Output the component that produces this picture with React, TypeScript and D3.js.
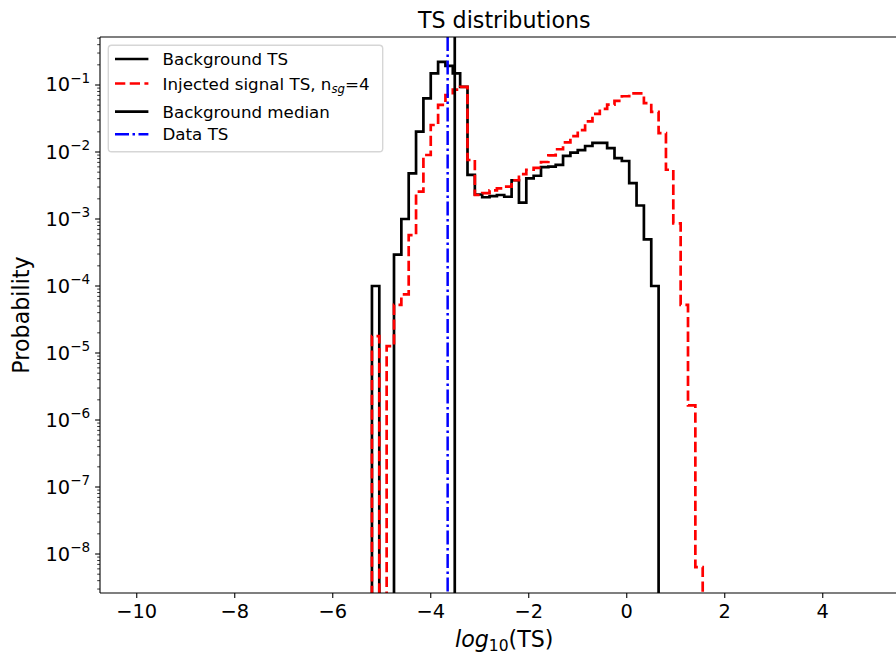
import React, { useRef, useEffect } from 'react';
import * as d3 from 'd3';

// histogram bins: width 0.15, first non-empty bin starts at -5.2
const binStart = -5.2;
const binWidth = 0.15;

// Background TS, probability per bin (from -5.2 up to 0.65)
const backgroundTS = [
  1.0e-4, 0, 0, 2.94e-4, 1.0e-3, 4.8e-3, 0.0201, 0.0632, 0.149, 0.222,
  0.1925, 0.149, 0.0938, 4.55e-3, 2.32e-3, 2.11e-3, 2.2e-3, 2.28e-3, 2.15e-3, 3.79e-3,
  1.75e-3, 4.05e-3, 4.42e-3, 5.93e-3, 6.06e-3, 6.44e-3, 8.76e-3, 9.79e-3, 0.0107, 0.0123,
  0.0137, 0.0137, 0.0114, 8.11e-3, 7.34e-3, 3.42e-3, 1.59e-3, 4.96e-4, 1.0e-4,
];

// Injected signal TS, n_sg=4 (from -5.2 up to 1.55)
const injectedTS = [
  1.79e-5, 0, 1.27e-5, 5.24e-5, 7.5e-5, 5.75e-4, 2.56e-3, 9.02e-3, 0.0253, 0.0504,
  0.0708, 0.0851, 0.0938, 7.6e-3, 2.28e-3, 2.44e-3, 2.68e-3, 2.87e-3, 3.05e-3, 3.79e-3,
  4.67e-3, 5.43e-3, 5.81e-3, 7.09e-3, 8.89e-3, 0.011, 0.0139, 0.0172, 0.0212, 0.0287,
  0.037, 0.0439, 0.0509, 0.058, 0.0679, 0.075, 0.075, 0.0537, 0.0397, 0.0191,
  5.43e-3, 8.63e-4, 5.24e-5, 1.65e-6, 6.35e-9,
];

const backgroundMedian = -3.51;
const dataTS = -3.655;

const xTicks = [-10, -8, -6, -4, -2, 0, 2, 4];
const yTickExponents = [-1, -2, -3, -4, -5, -6, -7, -8];

const FONT = 'DejaVu Sans, sans-serif';

function App() {
  const d3Container = useRef<HTMLDivElement | null>(null);

  const W = 896;
  const H = 657;
  const margin = { top: 37, left: 100 };
  const width = 808.5;
  const height = 556;

  useEffect(() => {
    if (!d3Container.current) return;
    d3.select(d3Container.current).selectAll('*').remove();

    const svg = d3
      .select(d3Container.current)
      .append('svg')
      .attr('width', W)
      .attr('height', H)
      .style('display', 'block')
      .style('font-family', FONT);

    svg.append('rect').attr('width', W).attr('height', H).attr('fill', '#fff');

    const x = d3.scaleLinear().domain([-10.75, 5.75]).range([margin.left, margin.left + width]);
    const y = d3
      .scaleLog()
      .domain([Math.pow(10, -8.582), Math.pow(10, -0.2836)])
      .range([margin.top + height, margin.top]);

    svg
      .append('clipPath')
      .attr('id', 'plot-clip')
      .append('rect')
      .attr('x', margin.left)
      .attr('y', margin.top)
      .attr('width', width)
      .attr('height', height);

    const plot = svg.append('g').attr('clip-path', 'url(#plot-clip)');
    const yBelow = margin.top + height + 400;

    const stepPath = (values: number[]) => {
      const pts: [number, number][] = [[x(binStart), yBelow]];
      values.forEach((v, i) => {
        const yy = v > 0 ? y(v) : yBelow;
        pts.push([x(binStart + i * binWidth), yy]);
        pts.push([x(binStart + (i + 1) * binWidth), yy]);
      });
      pts.push([x(binStart + values.length * binWidth), yBelow]);
      return d3.line()(pts) as string;
    };

    plot
      .append('path')
      .attr('d', stepPath(backgroundTS))
      .attr('fill', 'none')
      .attr('stroke', '#000')
      .attr('stroke-width', 2.7);

    plot
      .append('path')
      .attr('d', stepPath(injectedTS))
      .attr('fill', 'none')
      .attr('stroke', '#ff0000')
      .attr('stroke-width', 2.7)
      .attr('stroke-dasharray', '10.3,4.4');

    plot
      .append('line')
      .attr('x1', x(backgroundMedian))
      .attr('x2', x(backgroundMedian))
      .attr('y1', margin.top)
      .attr('y2', margin.top + height)
      .attr('stroke', '#000')
      .attr('stroke-width', 2.7);

    plot
      .append('line')
      .attr('x1', x(dataTS))
      .attr('x2', x(dataTS))
      .attr('y1', margin.top)
      .attr('y2', margin.top + height)
      .attr('stroke', '#0000ff')
      .attr('stroke-width', 2.5)
      .attr('stroke-dasharray', '14,3.5,2.5,3.5');

    // spines
    const spine = svg.append('g').attr('stroke', '#000').attr('stroke-width', 1.1);
    spine.append('line').attr('x1', margin.left).attr('x2', margin.left).attr('y1', margin.top).attr('y2', margin.top + height);
    spine.append('line').attr('x1', margin.left).attr('x2', margin.left + width).attr('y1', margin.top).attr('y2', margin.top);
    spine.append('line').attr('x1', margin.left).attr('x2', margin.left + width).attr('y1', margin.top + height).attr('y2', margin.top + height);
    spine.append('line').attr('x1', margin.left + width).attr('x2', margin.left + width).attr('y1', margin.top).attr('y2', margin.top + height);

    // x axis
    const xAxis = svg.append('g');
    xTicks.forEach((t) => {
      xAxis
        .append('line')
        .attr('x1', x(t))
        .attr('x2', x(t))
        .attr('y1', margin.top + height)
        .attr('y2', margin.top + height + 4.9)
        .attr('stroke', '#000')
        .attr('stroke-width', 1.1);
      xAxis
        .append('text')
        .attr('x', x(t))
        .attr('y', margin.top + height + 24.5)
        .attr('text-anchor', 'middle')
        .attr('font-size', 19.4)
        .text(t < 0 ? `\u2212${Math.abs(t)}` : `${t}`);
    });

    // y axis, major + minor log ticks
    const yAxis = svg.append('g');
    const [lo, hi] = y.domain();
    for (let e = -9; e <= 0; e++) {
      for (let m = 2; m <= 9; m++) {
        const v = m * Math.pow(10, e);
        if (v < lo || v > hi) continue;
        yAxis
          .append('line')
          .attr('x1', margin.left - 2.8)
          .attr('x2', margin.left)
          .attr('y1', y(v))
          .attr('y2', y(v))
          .attr('stroke', '#000')
          .attr('stroke-width', 0.8);
      }
    }
    yTickExponents.forEach((e) => {
      const yy = y(Math.pow(10, e));
      yAxis
        .append('line')
        .attr('x1', margin.left - 4.9)
        .attr('x2', margin.left)
        .attr('y1', yy)
        .attr('y2', yy)
        .attr('stroke', '#000')
        .attr('stroke-width', 1.1);
      const label = yAxis
        .append('text')
        .attr('x', margin.left - 9.8)
        .attr('y', yy + 6.5)
        .attr('text-anchor', 'end')
        .attr('font-size', 19.4);
      label.append('tspan').text('10');
      label
        .append('tspan')
        .attr('font-size', 13.6)
        .attr('dy', -8.5)
        .text(`\u2212${Math.abs(e)}`);
    });

    // labels and title
    const xl = svg
      .append('text')
      .attr('x', margin.left + width / 2)
      .attr('y', 647)
      .attr('text-anchor', 'middle')
      .attr('font-size', 22.2);
    xl.append('tspan').attr('font-style', 'italic').text('log');
    xl.append('tspan').attr('font-size', 15.5).attr('dy', 4).text('10');
    xl.append('tspan').attr('dy', -4).text('(TS)');

    svg
      .append('text')
      .attr('transform', `translate(29,${margin.top + height / 2}) rotate(-90)`)
      .attr('text-anchor', 'middle')
      .attr('font-size', 22.2)
      .text('Probability');

    svg
      .append('text')
      .attr('x', margin.left + width / 2)
      .attr('y', 27.5)
      .attr('text-anchor', 'middle')
      .attr('font-size', 22.2)
      .text('TS distributions');

    // legend
    const lg = svg.append('g');
    lg.append('rect')
      .attr('x', 108.3)
      .attr('y', 45.3)
      .attr('width', 274.4)
      .attr('height', 106.4)
      .attr('rx', 3.3)
      .attr('fill', 'rgba(255,255,255,0.8)')
      .attr('stroke', '#d6d6d6')
      .attr('stroke-width', 1.4);

    const entries = [
      { base: 59, color: '#000', dash: null as string | null, w: 2.7 },
      { base: 83.5, color: '#ff0000', dash: '10.3,4.4', w: 2.7 },
      { base: 111.7, color: '#000', dash: null, w: 2.7 },
      { base: 134.3, color: '#0000ff', dash: '14,3.5,2.5,3.5', w: 2.5 },
    ];
    entries.forEach((en, i) => {
      const ln = lg
        .append('line')
        .attr('x1', 115)
        .attr('x2', 148.4)
        .attr('y1', en.base)
        .attr('y2', en.base)
        .attr('stroke', en.color)
        .attr('stroke-width', en.w);
      if (en.dash) ln.attr('stroke-dasharray', en.dash);
      const t = lg
        .append('text')
        .attr('x', 162.5)
        .attr('y', en.base + 6)
        .attr('font-size', 16.7);
      if (i === 0) t.text('Background TS');
      if (i === 1) {
        t.append('tspan').text('Injected signal TS, n');
        t.append('tspan').attr('font-size', 11.7).attr('font-style', 'italic').attr('dy', 3.5).text('sg');
        t.append('tspan').attr('dy', -3.5).text('=4');
      }
      if (i === 2) t.text('Background median');
      if (i === 3) t.text('Data TS');
    });
  }, []);

  return <div ref={d3Container} style={{ position: 'absolute', left: 0, top: 0 }} />;
}

export default App;
